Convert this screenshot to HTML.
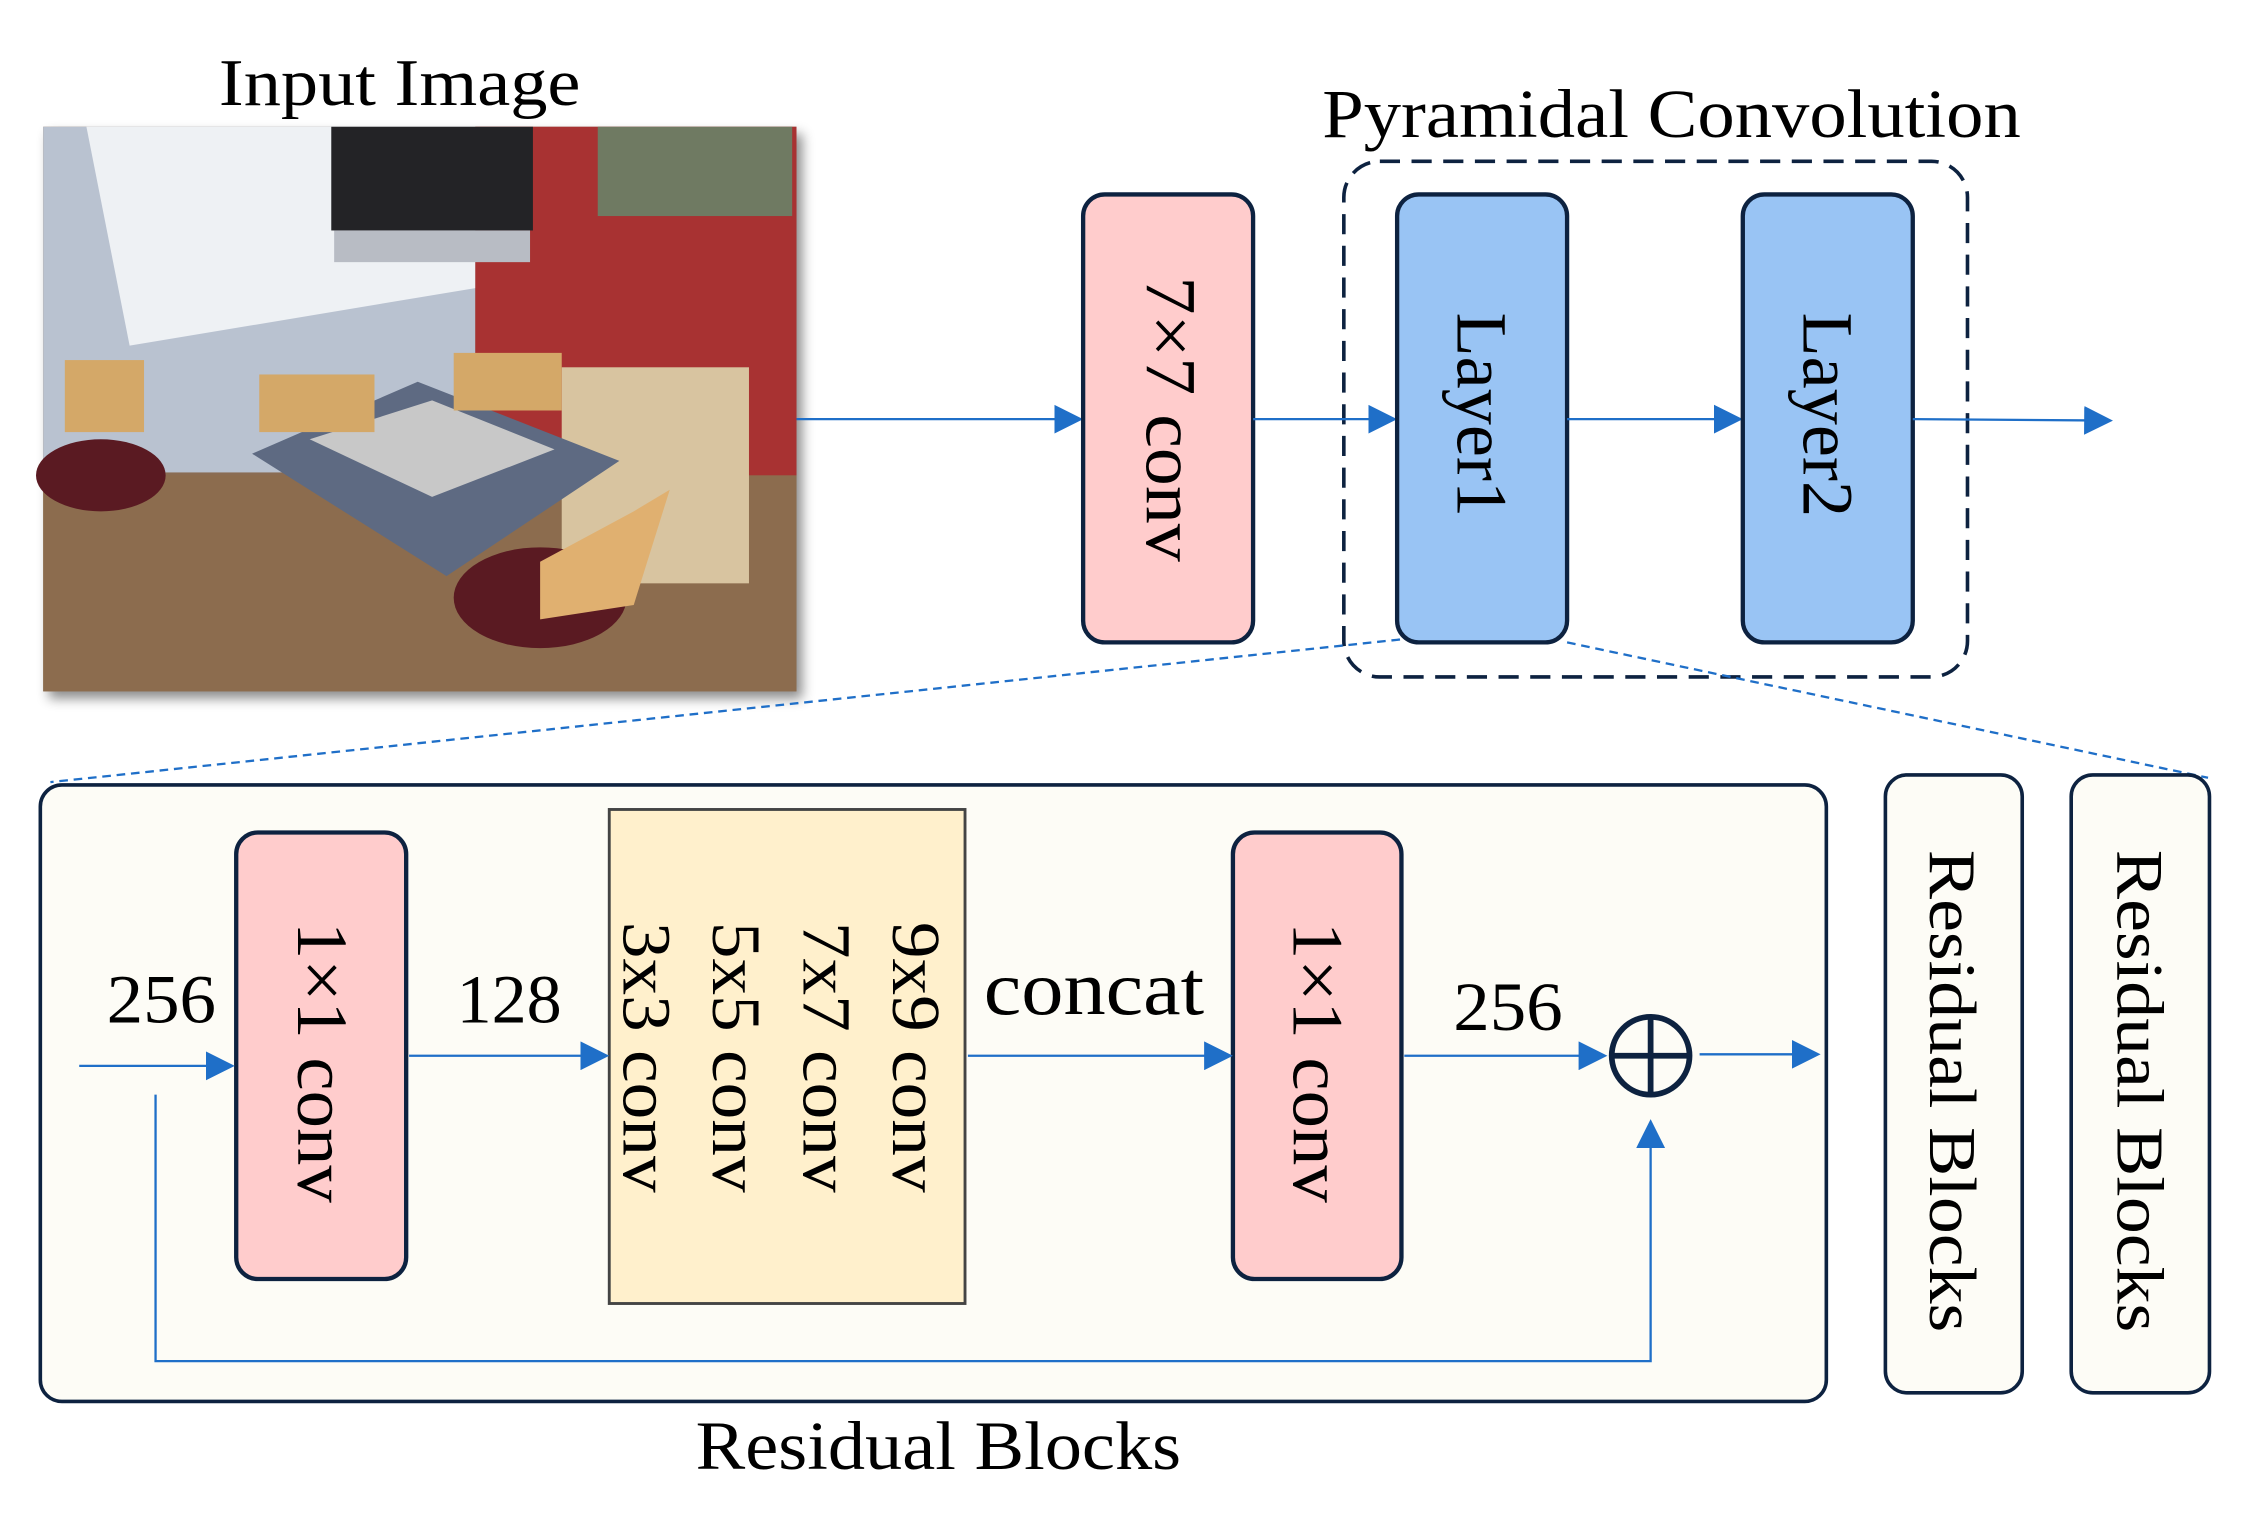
<!DOCTYPE html>
<html><head><meta charset="utf-8"><style>html,body{margin:0;padding:0;background:#fff}svg{display:block}</style></head>
<body>
<svg width="2257" height="1521" viewBox="0 0 1567 1056" preserveAspectRatio="none" xmlns="http://www.w3.org/2000/svg" font-family="'Liberation Serif', serif">
<defs>
<marker id="a2" viewBox="0 0 10 10" refX="9" refY="5" markerWidth="20" markerHeight="20" orient="auto" markerUnits="userSpaceOnUse"><path d="M0,0 L10,5 L0,10 z" fill="#1f6fc8"/></marker>
<filter id="sh" x="-5%" y="-5%" width="115%" height="115%"><feDropShadow dx="4" dy="5" stdDeviation="4" flood-color="#000" flood-opacity="0.45"/></filter>
</defs>
<rect width="1567" height="1056" fill="#fff"/>
<text x="152" y="73" font-size="46" textLength="251" lengthAdjust="spacingAndGlyphs">Input Image</text>
<!-- photo -->
<g filter="url(#sh)"><rect x="30" y="88" width="523" height="392" fill="#8a6c52"/></g>
<rect x="30" y="88" width="300" height="240" fill="#b9c2d0"/>
<polygon points="60,88 330,88 330,200 90,240" fill="#eef1f4"/>
<rect x="330" y="88" width="223" height="320" fill="#a83232"/>
<rect x="230" y="88" width="140" height="72" fill="#232326"/>
<rect x="232" y="160" width="136" height="22" fill="#b8bcc4"/>
<rect x="415" y="88" width="135" height="62" fill="#6f7a62"/>
<rect x="30" y="330" width="523" height="150" fill="#8c6c4e"/>
<rect x="390" y="255" width="130" height="150" fill="#d8c4a0"/>
<polygon points="175,315 290,265 430,320 310,400" fill="#5e6a82"/>
<polygon points="215,305 300,278 385,312 300,345" fill="#c8c8c8"/>
<ellipse cx="70" cy="330" rx="45" ry="25" fill="#5a1a22"/>
<ellipse cx="375" cy="415" rx="60" ry="35" fill="#5a1a22"/>
<polygon points="375,390 440,355 465,340 440,420 375,430" fill="#e0b070"/>
<rect x="45" y="250" width="55" height="50" fill="#d4a868"/>
<rect x="180" y="260" width="80" height="40" fill="#d4a868"/>
<rect x="315" y="245" width="75" height="40" fill="#d4a868"/>
<!-- top row -->
<line x1="553" y1="291" x2="750" y2="291" stroke="#1f6fc8" stroke-width="1.6" marker-end="url(#a2)"/>
<rect x="752" y="135" width="118" height="311" rx="15" fill="#ffcccc" stroke="#0d2240" stroke-width="3"/>
<text transform="translate(796,192) rotate(90)" font-size="50" textLength="198" lengthAdjust="spacingAndGlyphs">7×7 conv</text>
<text x="918" y="95" font-size="48" textLength="485" lengthAdjust="spacingAndGlyphs">Pyramidal Convolution</text>
<rect x="933" y="112" width="433" height="358" rx="25" fill="none" stroke="#0d2240" stroke-width="2.5" stroke-dasharray="14,8"/>
<line x1="870" y1="291" x2="968" y2="291" stroke="#1f6fc8" stroke-width="1.6" marker-end="url(#a2)"/>
<rect x="970" y="135" width="118" height="311" rx="15" fill="#99c4f4" stroke="#0d2240" stroke-width="3"/>
<text transform="translate(1012,217) rotate(90)" font-size="50" textLength="142" lengthAdjust="spacingAndGlyphs">Layer1</text>
<line x1="1088" y1="291" x2="1208" y2="291" stroke="#1f6fc8" stroke-width="1.6" marker-end="url(#a2)"/>
<rect x="1210" y="135" width="118" height="311" rx="15" fill="#99c4f4" stroke="#0d2240" stroke-width="3"/>
<text transform="translate(1252,217) rotate(90)" font-size="50" textLength="142" lengthAdjust="spacingAndGlyphs">Layer2</text>
<line x1="1328" y1="291" x2="1465" y2="292" stroke="#1f6fc8" stroke-width="1.6" marker-end="url(#a2)"/>
<line x1="972" y1="444" x2="35" y2="543" stroke="#1f6fc8" stroke-width="1.6" stroke-dasharray="6,4"/>
<line x1="1088" y1="446" x2="1533" y2="540" stroke="#1f6fc8" stroke-width="1.6" stroke-dasharray="6,4"/>
<!-- residual block -->
<rect x="28" y="545" width="1240" height="428" rx="15" fill="#fdfcf6" stroke="#0d2240" stroke-width="2.5"/>
<rect x="164" y="578" width="118" height="310" rx="15" fill="#ffcccc" stroke="#0d2240" stroke-width="3"/>
<text transform="translate(207,640) rotate(90)" font-size="50" textLength="195" lengthAdjust="spacingAndGlyphs">1×1 conv</text>
<rect x="423" y="562" width="247" height="343" fill="#fff0cc" stroke="#444" stroke-width="2"/>
<text transform="translate(620,640) rotate(90)" font-size="48" textLength="188" lengthAdjust="spacingAndGlyphs">9x9 conv</text>
<text transform="translate(558,640) rotate(90)" font-size="48" textLength="188" lengthAdjust="spacingAndGlyphs">7x7 conv</text>
<text transform="translate(495,640) rotate(90)" font-size="48" textLength="188" lengthAdjust="spacingAndGlyphs">5x5 conv</text>
<text transform="translate(433,640) rotate(90)" font-size="48" textLength="188" lengthAdjust="spacingAndGlyphs">3x3 conv</text>
<rect x="856" y="578" width="117" height="310" rx="15" fill="#ffcccc" stroke="#0d2240" stroke-width="3"/>
<text transform="translate(898,640) rotate(90)" font-size="50" textLength="195" lengthAdjust="spacingAndGlyphs">1×1 conv</text>
<text x="74" y="710" font-size="48" textLength="76" lengthAdjust="spacingAndGlyphs">256</text>
<text x="317" y="710" font-size="48" textLength="73" lengthAdjust="spacingAndGlyphs">128</text>
<text x="683" y="704" font-size="54" textLength="153" lengthAdjust="spacingAndGlyphs">concat</text>
<text x="1009" y="715" font-size="48" textLength="76" lengthAdjust="spacingAndGlyphs">256</text>
<line x1="55" y1="740" x2="161" y2="740" stroke="#1f6fc8" stroke-width="1.6" marker-end="url(#a2)"/>
<line x1="284" y1="733" x2="421" y2="733" stroke="#1f6fc8" stroke-width="1.6" marker-end="url(#a2)"/>
<line x1="672" y1="733" x2="854" y2="733" stroke="#1f6fc8" stroke-width="1.6" marker-end="url(#a2)"/>
<line x1="975" y1="733" x2="1114" y2="733" stroke="#1f6fc8" stroke-width="1.6" marker-end="url(#a2)"/>
<circle cx="1146" cy="733" r="27" fill="none" stroke="#0d2240" stroke-width="4"/>
<line x1="1119" y1="733" x2="1173" y2="733" stroke="#0d2240" stroke-width="4"/>
<line x1="1146" y1="706" x2="1146" y2="760" stroke="#0d2240" stroke-width="4"/>
<line x1="1180" y1="732" x2="1262" y2="732" stroke="#1f6fc8" stroke-width="1.6" marker-end="url(#a2)"/>
<polyline points="108,760 108,945 1146,945 1146,779" fill="none" stroke="#1f6fc8" stroke-width="1.6" marker-end="url(#a2)"/>
<rect x="1309" y="538" width="95" height="429" rx="15" fill="#fdfcf6" stroke="#0d2240" stroke-width="2.5"/>
<text transform="translate(1340,590) rotate(90)" font-size="46" textLength="335" lengthAdjust="spacingAndGlyphs">Residual Blocks</text>
<rect x="1438" y="538" width="96" height="429" rx="15" fill="#fdfcf6" stroke="#0d2240" stroke-width="2.5"/>
<text transform="translate(1470,590) rotate(90)" font-size="46" textLength="335" lengthAdjust="spacingAndGlyphs">Residual Blocks</text>
<text x="483" y="1020" font-size="48" textLength="337" lengthAdjust="spacingAndGlyphs">Residual Blocks</text>
</svg>
</body></html>
